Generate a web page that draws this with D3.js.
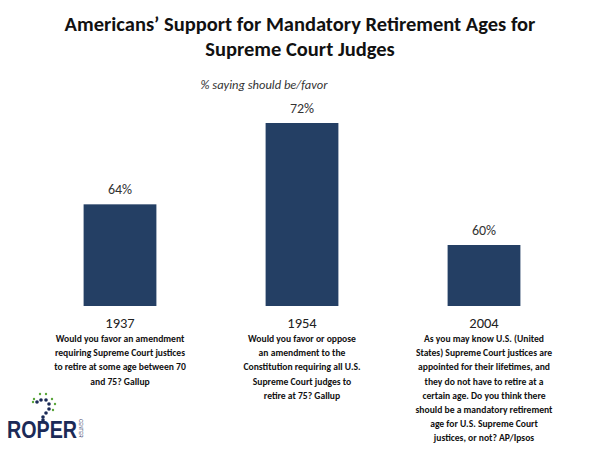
<!DOCTYPE html>
<html><head><meta charset="utf-8">
<script src="https://cdn.jsdelivr.net/npm/d3@7"></script>
<style>body{margin:0;background:#fff}svg{display:block}</style>
</head><body>
<script>
const years = ["1937", "1954", "2004"];
const values = [64, 72, 60];
const valueLabels = ["64%", "72%", "60%"];
const questions = [
  ["Would you favor an amendment", "requiring Supreme Court justices", "to retire at some age between 70", "and 75? Gallup"],
  ["Would you favor or oppose", "an amendment to the", "Constitution requiring all U.S.", "Supreme Court judges to", "retire at 75? Gallup"],
  ["As you may know U.S. (United", "States) Supreme Court justices are", "appointed for their lifetimes, and", "they do not have to retire at a", "certain age. Do you think there", "should be a mandatory retirement", "age for U.S. Supreme Court", "justices, or not? AP/Ipsos"]
];
const titleLines = ["Americans\u2019 Support for Mandatory Retirement Ages for", "Supreme Court Judges"];
const subtitle = "% saying should be/favor";

const W = 600, H = 450;
const svg = d3.select("body").append("svg").attr("width", W).attr("height", H);
const font = "Carlito, Lato, 'Open Sans', sans-serif";

const x = d3.scaleBand().domain(years).range([29, 575]).paddingInner(0.6).paddingOuter(0.3);
const y = d3.scaleLinear().domain([54, 72]).range([306, 123]);

svg.append("g").selectAll("text").data(titleLines).join("text")
  .attr("x", 300).attr("y", (d, i) => 31 + i * 25)
  .attr("text-anchor", "middle").attr("font-family", font).attr("font-weight", "bold")
  .attr("font-size", 20.5).attr("fill", "#111").text(d => d);

svg.append("text").attr("x", 264).attr("y", 89).attr("text-anchor", "middle")
  .attr("font-family", font).attr("font-style", "italic").attr("font-size", 12.5)
  .attr("fill", "#333").text(subtitle);

svg.append("g").selectAll("rect").data(values).join("rect")
  .attr("x", (d, i) => x(years[i])).attr("width", x.bandwidth())
  .attr("y", d => y(d)).attr("height", d => y.range()[0] - y(d))
  .attr("fill", "#243f64");

svg.append("g").selectAll("text").data(values).join("text")
  .attr("x", (d, i) => x(years[i]) + x.bandwidth() / 2).attr("y", d => y(d) - 10)
  .attr("text-anchor", "middle").attr("font-family", font).attr("font-size", 14)
  .attr("fill", "#333").text((d, i) => valueLabels[i]);

svg.append("g").selectAll("text").data(years).join("text")
  .attr("x", d => x(d) + x.bandwidth() / 2).attr("y", 328)
  .attr("text-anchor", "middle").attr("font-family", font).attr("font-size", 14.5)
  .attr("fill", "#222").text(d => d);

years.forEach((yr, i) => {
  const g = svg.append("g");
  g.selectAll("text").data(questions[i]).join("text")
    .attr("x", x(yr) + x.bandwidth() / 2).attr("y", (d, j) => 342 + j * 14.2)
    .attr("text-anchor", "middle").attr("font-family", font).attr("font-weight", "bold")
    .attr("font-size", 9.6).attr("fill", "#111").text(d => d);
});

// Roper logo (decorative)
const logo = svg.append("g");
logo.append("text").attr("x", 7).attr("y", 438).attr("font-family", "'Liberation Sans Narrow', 'Liberation Sans', Arial, sans-serif")
  .attr("font-weight", "bold").attr("font-size", 24).attr("fill", "#1b2a57").attr("textLength", 70).attr("lengthAdjust", "spacingAndGlyphs").text("ROPER");
logo.append("text").attr("transform", "translate(79,419) rotate(90)").attr("font-family", "'Liberation Sans', sans-serif")
  .attr("font-size", 4.5).attr("fill", "#1b2a57").text("CENTER");
const dots = [[37,402,"#1b2a57"],[41,400,"#1b2a57"],[46,400,"#1b2a57"],[49,404,"#1b2a57"],[49,409,"#1b2a57"],[46,413,"#1b2a57"],[43,417,"#1b2a57"],[43,420,"#1b2a57"]];
dots.forEach(d => logo.append("circle").attr("cx", d[0]).attr("cy", d[1]).attr("r", 1.8).attr("fill", d[2]));
const greens = [[34,399],[40,394],[46,394],[52,399],[55,404],[53,410],[33,402]];
greens.forEach(d => logo.append("circle").attr("cx", d[0]).attr("cy", d[1]).attr("r", 1.2).attr("fill", "#5aa53a"));
</script>
</body></html>
